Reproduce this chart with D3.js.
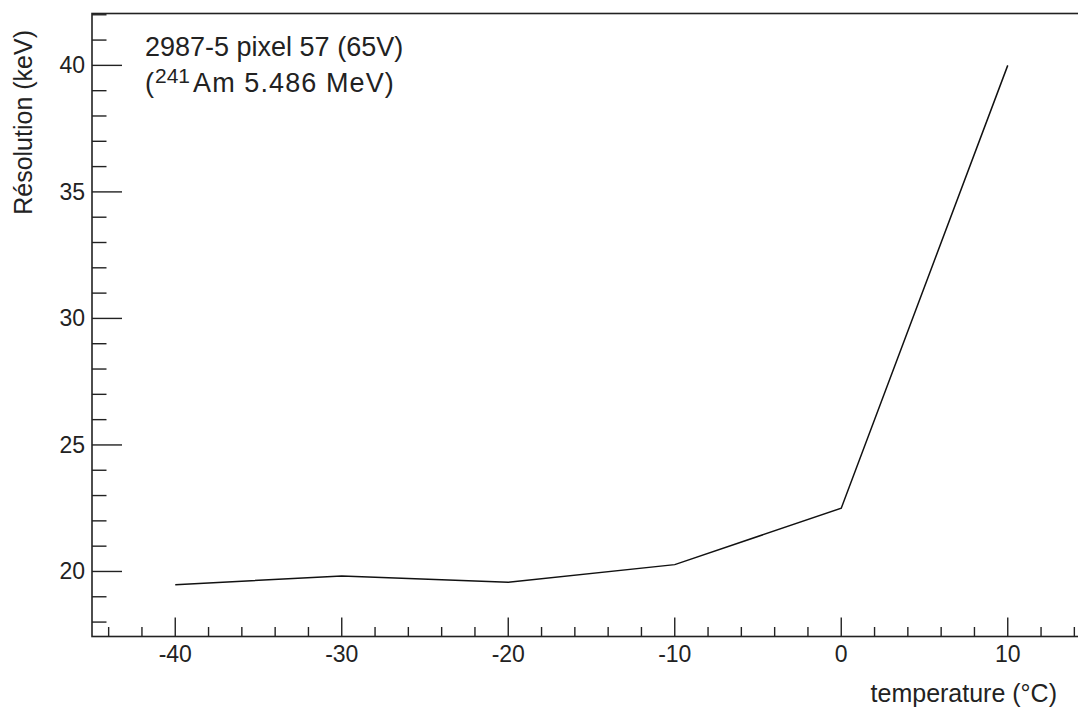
<!DOCTYPE html>
<html>
<head>
<meta charset="utf-8">
<script src="https://cdn.jsdelivr.net/npm/d3@7"></script>
<style>
  html, body { margin: 0; padding: 0; background: #fff; }
  svg { display: block; font-family: "Liberation Sans", Arial, Helvetica, sans-serif; }
</style>
</head>
<body>
<svg id="chart" width="1078" height="709"></svg>
<script>
// ---- data ----
const temperatures = [-40, -30, -20, -10, 0, 10];
const resolution = [19.48, 19.82, 19.57, 20.27, 22.5, 40.0];
const xTicks = [-40, -30, -20, -10, 0, 10];
const yTicks = [20, 25, 30, 35, 40];
const xDomain = [-45, 15];
const yDomain = [17.43, 42.05];
const titleLine1 = "2987-5 pixel 57 (65V)";
const xTitle = "temperature (°C)";
const yTitle = "Résolution (keV)";

// ---- layout ----
const frameL = 92, frameT = 13.5, frameB = 636.5, frameR = 92 + 60 * 16.65;
const svg = d3.select("#chart");
const x = d3.scaleLinear().domain(xDomain).range([frameL, frameR]);
const y = d3.scaleLinear().domain(yDomain).range([frameB, frameT]);
const axisColor = "#222";

// frame (right edge beyond canvas)
svg.append("rect")
  .attr("x", frameL).attr("y", frameT)
  .attr("width", frameR - frameL).attr("height", frameB - frameT)
  .attr("fill", "none").attr("stroke", axisColor).attr("stroke-width", 1.6);

// x axis ticks
const xMinor = d3.range(-44, 15, 2).filter(v => !xTicks.includes(v));
svg.append("g").selectAll("line").data(xMinor).join("line")
  .attr("x1", d => x(d)).attr("x2", d => x(d))
  .attr("y1", frameB).attr("y2", frameB - 9.5)
  .attr("stroke", axisColor).attr("stroke-width", 1.4);
svg.append("g").selectAll("line").data(xTicks).join("line")
  .attr("x1", d => x(d)).attr("x2", d => x(d))
  .attr("y1", frameB).attr("y2", frameB - 19)
  .attr("stroke", axisColor).attr("stroke-width", 1.4);
svg.append("g").selectAll("text").data(xTicks).join("text")
  .attr("x", d => x(d)).attr("y", 662)
  .attr("text-anchor", "middle")
  .attr("font-size", 23).attr("fill", "#222")
  .text(d => d);

// y axis ticks
const yMinor = d3.range(18, 43, 1).filter(v => !yTicks.includes(v));
svg.append("g").selectAll("line").data(yMinor).join("line")
  .attr("x1", frameL).attr("x2", frameL + 14.5)
  .attr("y1", d => y(d)).attr("y2", d => y(d))
  .attr("stroke", axisColor).attr("stroke-width", 1.4);
svg.append("g").selectAll("line").data(yTicks).join("line")
  .attr("x1", frameL).attr("x2", frameL + 30)
  .attr("y1", d => y(d)).attr("y2", d => y(d))
  .attr("stroke", axisColor).attr("stroke-width", 1.4);
svg.append("g").selectAll("text").data(yTicks).join("text")
  .attr("x", 85).attr("y", d => y(d) + 8)
  .attr("text-anchor", "end")
  .attr("font-size", 23).attr("fill", "#222")
  .text(d => d);

// data line
const line = d3.line().x((d, i) => x(temperatures[i])).y(d => y(d));
svg.append("path").datum(resolution)
  .attr("d", line)
  .attr("fill", "none").attr("stroke", "#111").attr("stroke-width", 1.5);

// titles
svg.append("text")
  .attr("transform", "translate(32,30) rotate(-90)")
  .attr("text-anchor", "end")
  .attr("font-size", 25).attr("fill", "#222")
  .text(yTitle);
svg.append("text")
  .attr("x", 1057).attr("y", 702)
  .attr("text-anchor", "end")
  .attr("font-size", 25).attr("fill", "#222")
  .text(xTitle);

// annotation
svg.append("text")
  .attr("x", 145).attr("y", 55.5)
  .attr("font-size", 27).attr("fill", "#222")
  .text(titleLine1);
const t2 = svg.append("text")
  .attr("x", 145).attr("y", 91.5)
  .attr("font-size", 27).attr("fill", "#222");
t2.append("tspan").text("(");
t2.append("tspan").attr("font-size", 21).attr("dy", -9).attr("dx", 1).text("241");
t2.append("tspan").attr("dy", 9).attr("dx", 3).attr("letter-spacing", 1.1).text("Am 5.486 MeV)");
</script>
</body>
</html>
